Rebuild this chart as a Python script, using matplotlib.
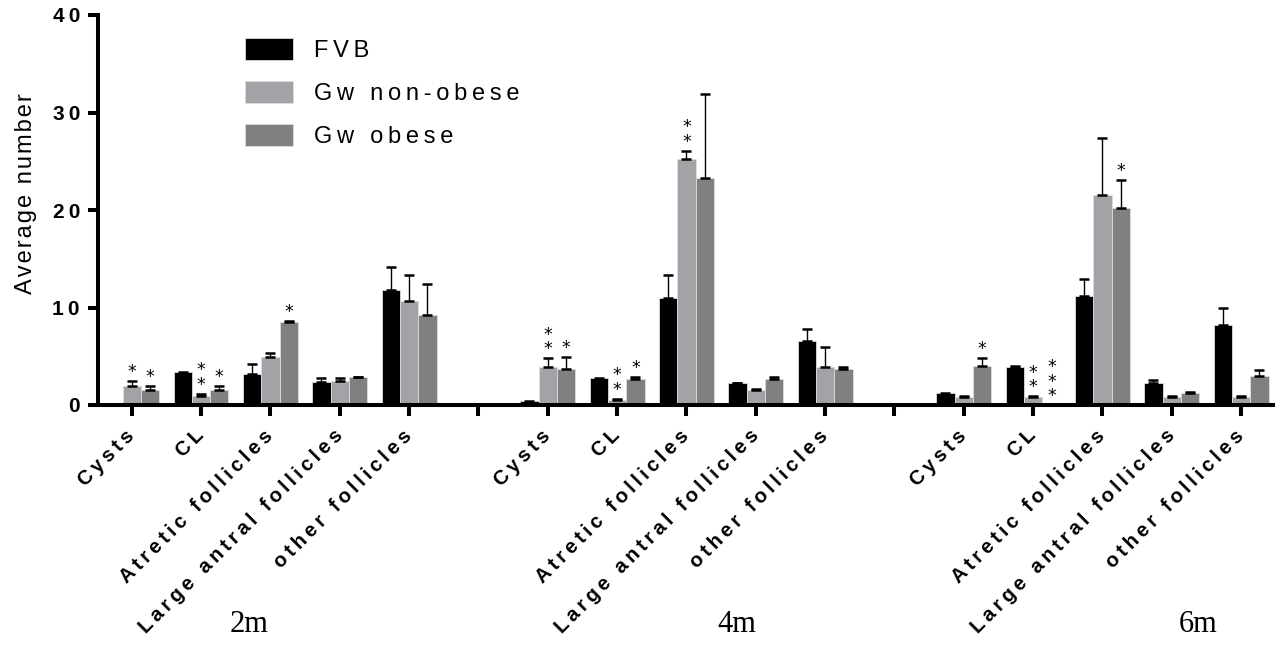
import numpy as np
import matplotlib
matplotlib.use("Agg")
import matplotlib.pyplot as plt
import matplotlib.transforms as mtransforms

plt.rcParams['font.family'] = ['Liberation Sans', 'DejaVu Sans']

TS = "\u2009"  # thin space, for the wide letter spacing of the original
HS = "\u200a"  # hair space

def spaced(s, sep=TS):
    return sep.join(list(s))

ages = ["2m", "4m", "6m"]
categories = ["Cysts", "CL", "Atretic follicles", "Large antral follicles", "other follicles"]
series = ["FVB", "Gw non-obese", "Gw obese"]
colors = ["#000000", "#a3a3a7", "#808080"]
nan = np.nan

# means and upper SEM, ordered 2m (5 cats), 4m (5 cats), 6m (5 cats)
fvb_mean = [0, 3.35, 3.18, 2.36, 11.8,   0.38, 2.77, 10.97, 2.22, 6.56,   1.2, 3.86, 11.2, 2.22, 8.2]
fvb_err = [nan, nan, 0.99, 0.38, 2.4,    nan, nan, 2.33, 0.05, 1.2,      nan, 0.11, 1.7, 0.31, 1.8]
nonob_mean = [1.95, 0.96, 4.96, 2.46, 10.7,   3.86, 0.51, 25.2, 1.54, 3.86,   0.85, 0.85, 21.5, 0.85, 0.85]
nonob_err = [0.51, 0.2, 0.34, 0.34, 2.6,      0.93, 0.11, 0.9, 0.1, 2.04,     0.04, 0.04, 5.9, 0.04, 0.04]
ob_mean = [1.54, 1.54, 8.55, 2.84, 9.2,   3.69, 2.67, 23.25, 2.67, 3.69,   3.97, 0, 20.2, 1.2, 2.94]
ob_err = [0.36, 0.38, 0.1, 0.06, 3.25,    1.2, 0.23, 8.65, 0.23, 0.24,     0.82, nan, 2.9, 0.1, 0.62]

# number of significance asterisks above each bar
fvb_stars = [0] * 15
nonob_stars = [1, 2, 0, 0, 0,   2, 2, 2, 0, 0,   0, 2, 0, 0, 0]
ob_stars = [1, 1, 1, 0, 0,   1, 1, 0, 0, 0,   1, 3, 1, 0, 0]

yticks = [0, 10, 20, 30, 40]

means = [fvb_mean, nonob_mean, ob_mean]
errs = [fvb_err, nonob_err, ob_err]
stars = [fvb_stars, nonob_stars, ob_stars]

# slot positions: 5 categories per age, one empty slot between ages
nslot = len(ages) * (len(categories) + 1) - 1
slots = np.array([g * (len(categories) + 1) + c for g in range(len(ages)) for c in range(len(categories))])

fig = plt.figure(figsize=(12.77, 6.45), dpi=100)
ax = fig.add_axes([98 / 1277, 1 - 405 / 645, 1175 / 1277, 390 / 645])

w = 0.264
handles = []
for i in range(3):
    x = slots + (i - 1) * w
    m = np.array(means[i], dtype=float)
    e = np.array(errs[i], dtype=float)
    b = ax.bar(x, m, width=w, color=colors[i], edgecolor="#dcdcdc", linewidth=0.6, zorder=2)
    handles.append(b)
    ax.errorbar(x, m, yerr=[np.zeros_like(e), e], fmt="none", ecolor="black",
                elinewidth=1.0, capsize=3.5, capthick=1.8, zorder=3)
    for xi, mi, ei, n in zip(x, m, e, stars[i]):
        if n == 0:
            continue
        top = mi + (0 if np.isnan(ei) else ei)
        ax.annotate("\n".join(["*"] * n), (xi, top), xytext=(0, 0), textcoords="offset points",
                    ha="center", va="bottom", fontsize=12.5, linespacing=0.75, family="DejaVu Sans")

ax.set_xlim(-0.486, 16.46)
ax.set_ylim(0, 40)

for side in ["top", "right"]:
    ax.spines[side].set_visible(False)
for side in ["left", "bottom"]:
    ax.spines[side].set_linewidth(2.9)

ax.set_yticks(yticks)
ax.set_yticklabels([spaced(str(t)) for t in yticks], fontsize=15, fontweight="bold")
ax.tick_params(axis="y", length=7, width=2.9, pad=6)

xt = np.arange(nslot)
labels = [""] * nslot
for s, c in zip(slots, categories * len(ages)):
    labels[s] = spaced(c)
ax.set_xticks(xt)
ax.set_xticklabels(labels, rotation=45, ha="right", va="center", rotation_mode="anchor",
                   fontsize=14.5, fontweight="bold")
ax.tick_params(axis="x", length=8, width=2.9, pad=12)

ax.set_ylabel(spaced("Average number", HS), fontsize=17)
ax.yaxis.set_label_coords(-0.052, 0.542)

leg = ax.legend(handles, [spaced(s) for s in series], loc="upper left",
                bbox_to_anchor=(0.125, 0.942), frameon=False, fontsize=17,
                handlelength=2.03, handleheight=1.1, handletextpad=0.89,
                labelspacing=0.79, borderpad=0, borderaxespad=0)

trans = mtransforms.blended_transform_factory(ax.transData, ax.transAxes)
for age, xc in zip(ages, [1.69, 8.73, 15.38]):
    ax.text(xc, -0.564, age, transform=trans, ha="center", va="center",
            fontsize=22, family="Liberation Serif")

fig.savefig("out.png", dpi=100)
